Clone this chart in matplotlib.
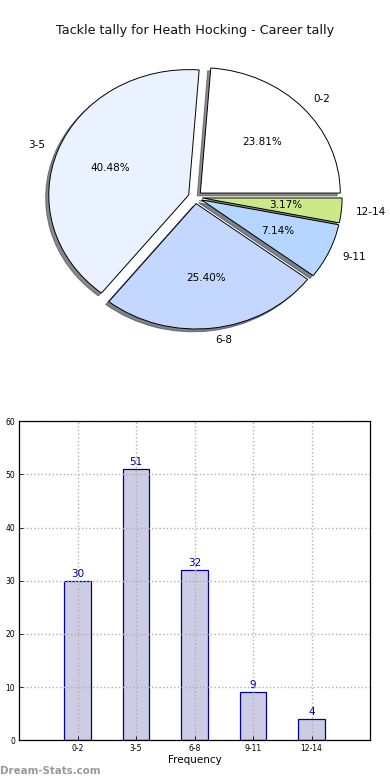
import matplotlib
matplotlib.use("Agg")
import matplotlib.pyplot as plt

# tackle counts per game, grouped by range
categories = ["0-2", "3-5", "6-8", "9-11", "12-14"]
counts = [30, 51, 32, 9, 4]
pie_colors = ["#ffffff", "#eaf1ff", "#c4d8ff", "#b4d6ff", "#cce98a"]
yticks = [0, 10, 20, 30, 40, 50, 60]

fig = plt.figure(figsize=(3.9, 7.8), dpi=100)
fig.text(0.5, 0.961, "Tackle tally for Heath Hocking - Career tally",
         ha="center", va="center", fontsize=9.2, color="#111111")

# ---------------------------------------------------------------------------
# pie
# ---------------------------------------------------------------------------
ax1 = fig.add_axes([0.052, 0.546, 0.897, 0.402])
wedges, texts, autotexts = ax1.pie(
    counts, labels=categories, colors=pie_colors, explode=[0.05] * 5,
    autopct="%.2f%%", shadow=dict(ox=-0.016, oy=-0.016, alpha=0.65),
    startangle=0,
    wedgeprops=dict(edgecolor="black", linewidth=0.7),
    textprops=dict(fontsize=7.5),
)
ax1.set_aspect("auto")
ax1.set_xlim(-1.25, 1.25)
ax1.set_ylim(-1.25, 1.25)

# ---------------------------------------------------------------------------
# bar chart
# ---------------------------------------------------------------------------
ax2 = fig.add_axes([0.049, 0.051, 0.9, 0.409])
xpos = list(range(1, len(categories) + 1))
bars = ax2.bar(xpos, counts, width=0.45, color="#ccccE4",
               edgecolor="#000099", linewidth=0.9)
for x, v in zip(xpos, counts):
    ax2.text(x, v + 0.4, str(v), ha="center", va="bottom",
             fontsize=7.5, color="#000099")
ax2.set_xlim(0, 6)
ax2.set_ylim(0, 60)
ax2.set_xticks(xpos)
ax2.set_xticklabels(categories, fontsize=5.5)
ax2.set_yticks(yticks)
ax2.set_yticklabels([str(t) for t in yticks], fontsize=5.5)
ax2.tick_params(direction="in", length=3, width=0.6, pad=3)
ax2.grid(True, linestyle=":", color="#b0b0b0", linewidth=1.0)
ax2.set_xlabel("Frequency", fontsize=7.5, labelpad=1)
for s in ax2.spines.values():
    s.set_linewidth(0.9)

fig.text(0.0, 0.012, "Dream-Stats.com", fontsize=7.4, color="#999999",
         fontweight="bold", ha="left", va="center")

fig.savefig("out.png", dpi=100)
